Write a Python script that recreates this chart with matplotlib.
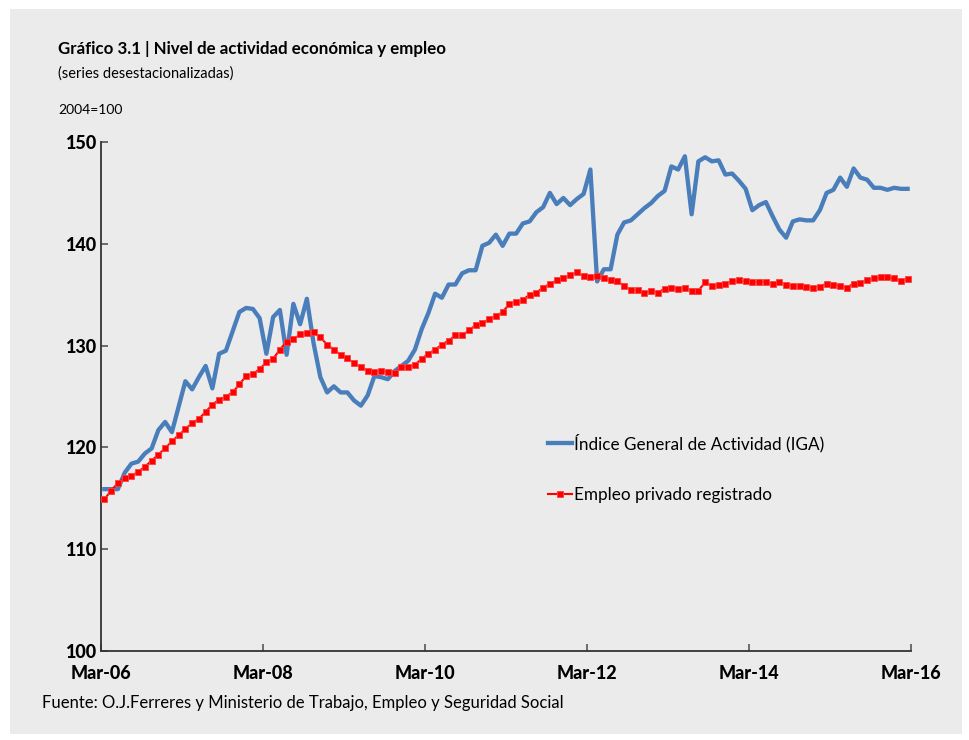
import matplotlib
matplotlib.use("Agg")
import matplotlib.pyplot as plt
from matplotlib.patches import Rectangle
import numpy as np

plt.rcParams['font.family'] = ['Lato', 'DejaVu Sans']

# Monthly data Mar-06 .. Feb-16 (120 months)
iga = [115.9, 115.9, 115.9, 117.5, 118.4, 118.6, 119.4, 119.9, 121.7, 122.5,
       121.5, 124.0, 126.5, 125.7, 126.9, 128.0, 125.8, 129.2, 129.5, 131.4,
       133.3, 133.7, 133.6, 132.7, 129.2, 132.8, 133.5, 129.1, 134.1, 132.1,
       134.6, 130.2, 126.9, 125.4, 126.0, 125.4, 125.4, 124.6, 124.1, 125.1,
       127.0, 126.9, 126.7, 127.5, 128.0, 128.5, 129.6, 131.6, 133.2, 135.1,
       134.7, 136.0, 136.0, 137.1, 137.4, 137.4, 139.8, 140.1, 140.9, 139.8,
       141.0, 141.0, 142.0, 142.2, 143.1, 143.6, 145.0, 143.9, 144.5, 143.8,
       144.4, 144.9, 147.3, 136.3, 137.5, 137.5, 140.9, 142.1, 142.3, 142.9,
       143.5, 144.0, 144.7, 145.2, 147.6, 147.3, 148.6, 142.9, 148.1, 148.5,
       148.1, 148.2, 146.8, 146.9, 146.2, 145.4, 143.3, 143.8, 144.1, 142.7,
       141.4, 140.6, 142.2, 142.4, 142.3, 142.3, 143.3, 145.0, 145.3, 146.5,
       145.6, 147.4, 146.5, 146.3, 145.5, 145.5, 145.3, 145.5, 145.4, 145.4]

empleo = [114.9, 115.75, 116.5, 117.0, 117.2, 117.6, 118.1, 118.7, 119.3, 119.9,
          120.6, 121.2, 121.8, 122.4, 122.8, 123.5, 124.2, 124.7, 125.0, 125.4,
          126.2, 127.0, 127.2, 127.7, 128.35, 128.7, 129.6, 130.4, 130.6, 131.1,
          131.2, 131.3, 130.8, 130.1, 129.6, 129.1, 128.75, 128.25, 127.9, 127.55,
          127.45, 127.5, 127.45, 127.35, 127.9, 127.9, 128.1, 128.7, 129.2, 129.6,
          130.1, 130.5, 131.0, 131.0, 131.5, 132.0, 132.2, 132.6, 132.9, 133.3,
          134.1, 134.3, 134.5, 135.0, 135.2, 135.7, 136.05, 136.4, 136.6, 136.9,
          137.2, 136.85, 136.7, 136.85, 136.65, 136.4, 136.35, 135.85, 135.5, 135.45,
          135.2, 135.35, 135.2, 135.6, 135.7, 135.6, 135.7, 135.4, 135.4, 136.2,
          135.9, 135.95, 136.1, 136.3, 136.4, 136.3, 136.25, 136.25, 136.25, 136.1,
          136.2, 136.0, 135.9, 135.85, 135.8, 135.7, 135.8, 136.1, 135.95, 135.9,
          135.7, 136.1, 136.15, 136.4, 136.6, 136.7, 136.7, 136.6, 136.35, 136.55]

tick_labels = ["Mar-06", "Mar-08", "Mar-10", "Mar-12", "Mar-14", "Mar-16"]
y_ticks = [100, 110, 120, 130, 140, 150]

W, H = 969, 740
fig = plt.figure(figsize=(W / 100, H / 100), dpi=100)
fig.patch.set_facecolor("white")
bg = "#EBEBEB"
fig.patches.append(Rectangle((10 / W, 1 - 734 / H), (962 - 10) / W, (734 - 9) / H,
                             transform=fig.transFigure, facecolor=bg,
                             edgecolor="none", zorder=-5))

ax = fig.add_axes([101 / W, 1 - 651 / H, (911 - 101) / W, (651 - 142) / H])
ax.set_zorder(2)
ax.patch.set_alpha(0)

x = np.arange(len(iga)) + 0.5
ax.plot(x, iga, color="#4A7EBB", lw=3.1, solid_joinstyle="round",
        label="Índice General de Actividad (IGA)", zorder=3)
ax.plot(x, empleo, color="#FF0000", lw=1.5, marker="s", markersize=4.0,
        markeredgewidth=0.6, markeredgecolor="#FF4040",
        label="Empleo privado registrado", zorder=4)

ax.set_xlim(0, 120)
ax.set_ylim(100, 150)
ax.set_xticks(np.arange(0, 121, 24))
ax.set_xticklabels(tick_labels)
ax.set_yticks(y_ticks)
for s in ["top", "right"]:
    ax.spines[s].set_visible(False)
for s in ["left", "bottom"]:
    ax.spines[s].set_color("#333333")
    ax.spines[s].set_linewidth(1.3)
ax.tick_params(axis="both", direction="in", length=5, width=1.2, color="#555555",
               labelsize=13)
ax.tick_params(axis="x", pad=10)
ax.tick_params(axis="y", pad=3)
for lab in ax.get_xticklabels() + ax.get_yticklabels():
    lab.set_fontweight("black")

leg = ax.legend(loc="upper left", bbox_to_anchor=(533 / W, 1 - 418 / H),
                bbox_transform=fig.transFigure, frameon=False, fontsize=12.3,
                handlelength=1.4, handletextpad=0.1, labelspacing=2.05)

fig.text(58 / W, 1 - 49 / H, "Gráfico 3.1 | Nivel de actividad económica y empleo",
         fontsize=12.2, fontweight="bold", va="center", ha="left")
fig.text(58 / W, 1 - 74 / H, "(series desestacionalizadas)", fontsize=10.5,
         va="center", ha="left")
fig.text(58 / W, 1 - 110 / H, "2004=100", fontsize=10, va="center", ha="left")
fig.text(42 / W, 1 - 703 / H,
         "Fuente: O.J.Ferreres y Ministerio de Trabajo, Empleo y Seguridad Social",
         fontsize=12.0, va="center", ha="left")

fig.savefig("out.png", dpi=100, facecolor=fig.get_facecolor())
